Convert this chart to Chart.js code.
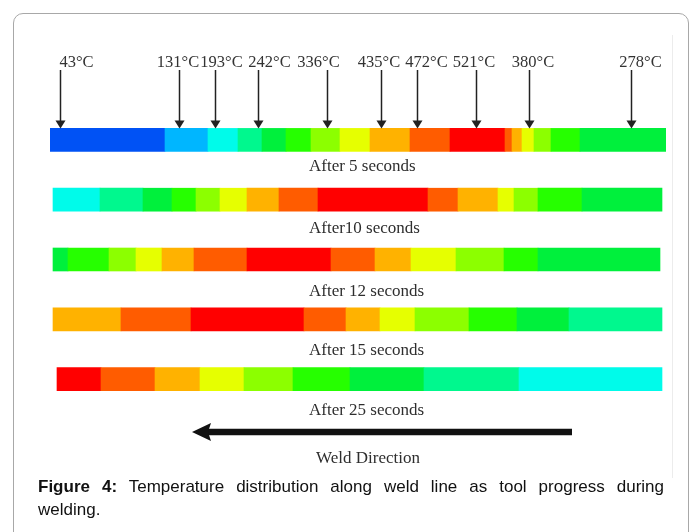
<!DOCTYPE html>
<html>
<head>
<meta charset="utf-8">
<script src="https://cdn.jsdelivr.net/npm/chart.js@4/dist/chart.umd.min.js"></script>
<style>
  html, body { margin: 0; padding: 0; background: #fff; }
  body { width: 690px; height: 532px; position: relative; overflow: hidden; }
  #frame {
    position: absolute; left: 13px; top: 13px; width: 676px; height: 600px;
    box-sizing: border-box; border: 1px solid #a8a8a8; border-radius: 10px;
  }
  #edge { position: absolute; left: 672px; top: 35px; width: 1px; height: 443px; background: #ececec; }
  #charts { position: absolute; left: 0; top: 0; }
  .cap {
    position: absolute; left: 38px; width: 626px;
    font: 17px "Liberation Sans", Arial, sans-serif; line-height: 23px; color: #111;
  }
  #cap1 { top: 475px; text-align: justify; text-align-last: justify; white-space: nowrap; }
  #cap2 { top: 498px; }
</style>
</head>
<body>
<div id="frame"></div>
<div id="edge"></div>
<canvas id="charts" width="690" height="532"></canvas>
<div class="cap" id="cap1"><b>Figure 4:</b> Temperature distribution along weld line as tool progress during</div>
<div class="cap" id="cap2">welding.</div>
<script>
// rows of the figure, top to bottom
const rows = ["After 5 seconds", "After10 seconds", "After 12 seconds", "After 15 seconds", "After 25 seconds"];

// segment edges along the weld (mm) and colour band of each segment
// band: 0 blue .. 10 red
const edgesAt5 = [0, 28.75, 39.5, 47, 53, 59, 65.25, 72.5, 80, 90, 100, 113.75, 115.5, 118, 121, 125.25, 132.5, 154];
const bandsAt5 = [0, 1, 2, 3, 4, 5, 6, 7, 8, 9, 10, 9, 8, 7, 6, 5, 4];
const edgesAt10 = [0.75, 12.5, 23.25, 30.5, 36.5, 42.5, 49.25, 57.25, 67, 94.5, 102, 112, 116, 122, 133, 153];
const bandsAt10 = [2, 3, 4, 5, 6, 7, 8, 9, 10, 9, 8, 7, 6, 5, 4];
const edgesAt12 = [0.75, 4.5, 14.75, 21.5, 28, 36, 49.25, 70.25, 81.25, 90.25, 101.5, 113.5, 122, 152.5];
const bandsAt12 = [4, 5, 6, 7, 8, 9, 10, 9, 8, 7, 6, 5, 4];
const edgesAt15 = [0.75, 17.75, 35.25, 63.5, 74, 82.5, 91.25, 104.75, 116.75, 129.75, 153];
const bandsAt15 = [8, 9, 10, 9, 8, 7, 6, 5, 4, 3];
const edgesAt25 = [1.75, 12.75, 26.25, 37.5, 48.5, 60.75, 75, 93.5, 117.25, 153];
const bandsAt25 = [10, 9, 8, 7, 6, 5, 4, 3, 2];

// probe points on the 5 s strip
const probeAt = [2.5, 32.25, 41.25, 52, 69.25, 82.75, 91.75, 106.5, 119.75, 145.25];
const probeTemp = [43, 131, 193, 242, 336, 435, 472, 521, 380, 278];

const bandColours = ["#0052f5", "#00b6ff", "#00fbea", "#00f88e", "#00f03c", "#26ff00", "#8cff00", "#e6ff00", "#ffb200", "#ff5c00", "#ff0000"];
const tagNudge = [16, -1.5, 6, 11, -9, -2.5, 9, -2.5, 3.5, 9];
const titleGap = [20, 22, 25, 24, 24];
const serif = '"Liberation Serif", "Times New Roman", serif';

const strips = [[edgesAt5, bandsAt5], [edgesAt10, bandsAt10], [edgesAt12, bandsAt12], [edgesAt15, bandsAt15], [edgesAt25, bandsAt25]];

const notes = {
  id: "notes",
  afterDatasetsDraw(chart) {
    const ctx = chart.ctx, x = chart.scales.x, y = chart.scales.y;
    const half = 11.5;
    ctx.save();
    ctx.textBaseline = "alphabetic";
    // probe arrows and temperatures
    ctx.font = "16.5px " + serif;
    const tip = y.getPixelForValue(0) - half;
    probeAt.forEach((p, i) => {
      const px = Math.round(x.getPixelForValue(p)) + 0.5;
      ctx.strokeStyle = "#222";
      ctx.fillStyle = "#222";
      ctx.lineWidth = 1.5;
      ctx.beginPath();
      ctx.moveTo(px, 70);
      ctx.lineTo(px, tip - 7);
      ctx.stroke();
      ctx.beginPath();
      ctx.moveTo(px - 5, tip - 8);
      ctx.lineTo(px + 5, tip - 8);
      ctx.lineTo(px, tip);
      ctx.closePath();
      ctx.fill();
      ctx.fillStyle = "#333";
      ctx.textAlign = "center";
      ctx.fillText(probeTemp[i] + "°C", px + tagNudge[i], 67);
    });
    // row titles
    ctx.font = "17px " + serif;
    ctx.textAlign = "left";
    ctx.fillStyle = "#2e2e2e";
    const left = x.getPixelForValue(64.75);
    rows.forEach((r, i) => {
      ctx.fillText(r, left, y.getPixelForValue(i) + half + titleGap[i]);
    });
    // weld direction arrow
    const head = x.getPixelForValue(35.5), tail = x.getPixelForValue(130.5), ay = 432;
    ctx.fillStyle = "#111";
    ctx.fillRect(head + 14, ay - 3.25, tail - head - 14, 6.5);
    ctx.beginPath();
    ctx.moveTo(head, ay);
    ctx.lineTo(head + 19, ay - 9);
    ctx.lineTo(head + 16, ay);
    ctx.lineTo(head + 19, ay + 9);
    ctx.closePath();
    ctx.fill();
    ctx.fillStyle = "#2e2e2e";
    ctx.textAlign = "center";
    ctx.fillText("Weld Direction", x.getPixelForValue(79.5), 463);
    ctx.restore();
  }
};

new Chart("charts", {
  type: "bar",
  data: {
    labels: rows,
    datasets: strips.map(([edges, bands], r) => ({
      label: rows[r],
      data: bands.map((b, i) => ({ x: [edges[i], edges[i + 1]], y: rows[r] })),
      backgroundColor: bands.map(b => bandColours[b]),
      borderWidth: 0,
      borderSkipped: false,
      barThickness: 23,
      grouped: false
    }))
  },
  options: {
    indexAxis: "y",
    responsive: false,
    animation: false,
    devicePixelRatio: 1,
    layout: { padding: { left: 50, right: 24, top: 110, bottom: 123 } },
    scales: {
      x: { type: "linear", min: 0, max: 154, display: false },
      y: { type: "category", display: false, offset: true }
    },
    plugins: {
      legend: { display: false },
      tooltip: { enabled: false },
      title: { display: false }
    }
  },
  plugins: [notes]
});
</script>
</body>
</html>
